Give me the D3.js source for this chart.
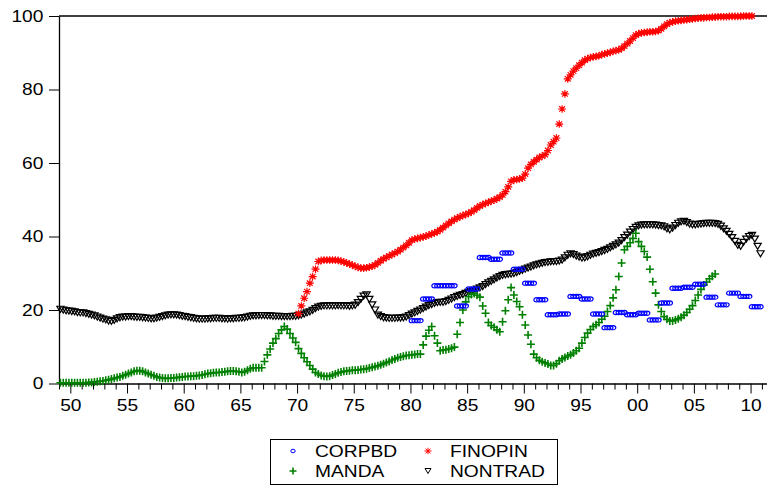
<!DOCTYPE html>
<html>
<head>
<meta charset="utf-8">
<script src="https://cdn.jsdelivr.net/npm/d3@7"></script>
<style>
body { margin: 0; background: #fff; }
svg text { font-family: "Liberation Sans", Arial, sans-serif; font-size: 16px; fill: #000; }
</style>
</head>
<body>
<svg id="chart" width="767" height="486"></svg>
<script>
// quarterly data, first value = Q1 of the start year
var corpbd_start = 1980;
var corpbd = [
  17.1,17.1,17.1,17.1, 23.0,23.0,23.0,23.0, 26.6,26.6,26.6,26.6, 26.6,26.6,26.6,26.6, 21.1,21.1,21.1,21.1,
  25.7,25.7,25.7,25.7, 34.3,34.3,34.3,34.3, 33.8,33.8,33.8,33.8, 35.5,35.5,35.5,35.5, 31.1,31.1,31.1,31.1,
  27.3,27.3,27.3,27.3, 22.8,22.8,22.8,22.8, 18.7,18.7,18.7,18.7, 18.9,18.9,18.9,18.9, 23.7,23.7,23.7,23.7,
  23.0,23.0,23.0,23.0, 18.9,18.9,18.9,18.9, 15.2,15.2,15.2,15.2, 19.3,19.3,19.3,19.3, 18.7,18.7,18.7,18.7,
  19.1,19.1,19.1,19.1, 17.3,17.3,17.3,17.3, 21.9,21.9,21.9,21.9, 25.9,25.9,25.9,25.9, 26.2,26.2,26.2,26.2,
  27.0,27.0,27.0,27.0, 23.5,23.5,23.5,23.5, 21.4,21.4,21.4,21.4, 24.6,24.6,24.6,24.6, 23.7,23.7,23.7,23.7,
  20.9,20.9,20.9,20.9
];

var finopin_start = 1970;
var finopin = [
  19.0,21.1,23.2,25.0, 27.3,29.1,31.1,33.2, 33.5,33.6,33.6,33.6, 33.6,33.6,33.5,33.3, 33.1,32.8,32.5,32.2,
  31.9,31.6,31.4,31.4, 31.5,31.7,31.9,32.3, 32.8,33.4,33.9,34.3, 34.7,35.1,35.5,35.9, 36.4,37.0,37.6,38.3,
  39.0,39.3,39.5,39.7, 39.9,40.1,40.4,40.7, 41.0,41.3,41.8,42.4, 43.0,43.6,44.1,44.6, 45.0,45.4,45.7,46.0,
  46.3,46.7,47.2,47.8, 48.3,48.7,49.0,49.3, 49.6,49.9,50.3,50.7, 51.3,52.2,53.5,55.0, 55.4,55.5,55.7,55.9,
  57.0,58.6,59.6,60.3, 60.9,61.5,61.9,62.3, 63.4,64.9,65.8,66.8, 70.6,74.7,78.8,82.9, 84.0,85.0,85.8,86.6,
  87.3,88.0,88.4,88.7, 88.9,89.0,89.2,89.5, 89.7,89.9,90.1,90.4, 90.6,90.8,91.2,91.8, 92.5,93.2,94.0,94.8,
  95.2,95.4,95.5,95.6, 95.7,95.7,95.8,96.0, 96.5,97.2,97.8,98.2, 98.4,98.6,98.7,98.8, 98.9,99.0,99.1,99.2,
  99.3,99.4,99.5,99.5, 99.6,99.6,99.7,99.7, 99.8,99.8,99.8,99.8, 99.9,99.9,99.9,99.9, 99.9,100.0,100.0,100.0,
  100.0
];

var manda_start = 1949;
var manda = [
  0.2,0.2,0.2,0.2, 0.2,0.2,0.2,0.2, 0.2,0.2,0.3,0.3, 0.4,0.5,0.6,0.7, 0.9,1.0,1.2,1.4,
  1.6,1.8,2.1,2.4, 2.7,3.0,3.3,3.5, 3.5,3.3,3.0,2.7, 2.4,2.1,1.8,1.6, 1.5,1.4,1.4,1.5,
  1.5,1.6,1.7,1.8, 1.9,1.9,2.0,2.0, 2.1,2.2,2.3,2.5, 2.7,2.8,2.9,3.0, 3.0,3.1,3.2,3.3,
  3.4,3.4,3.3,3.2, 3.0,3.2,3.6,4.0, 4.3,4.3,4.3,4.3, 6.0,7.8,9.4,11.0, 12.2,13.6,14.6,15.5,
  14.8,13.6,12.4,11.2, 9.5,8.2,7.0,5.9, 4.9,3.9,3.0,2.6, 2.2,2.0,1.9,2.0, 2.3,2.6,2.9,3.1,
  3.3,3.4,3.5,3.6, 3.6,3.7,3.8,3.9, 4.0,4.2,4.4,4.6, 4.8,5.1,5.4,5.7, 6.0,6.4,6.7,7.0,
  7.2,7.4,7.6,7.7, 7.8,7.9,8.0,8.0, 10.5,12.9,14.5,15.5, 13.0,11.0,8.9,9.1, 9.2,9.4,9.6,9.9,
  13.4,16.6,20.0,22.2, 23.6,24.2,24.5,24.0, 23.5,21.1,19.1,16.6, 15.8,15.3,14.6,14.1, 16.8,19.8,22.8,26.1,
  24.1,22.3,20.9,18.7, 15.9,13.2,10.7,8.0, 7.0,6.3,5.9,5.6, 5.3,4.9,4.9,5.4, 6.2,6.7,7.1,7.5,
  7.8,8.3,8.9,9.6, 11.0,12.5,13.7,14.7, 15.5,16.0,16.6,17.5, 18.3,19.6,21.2,23.3, 25.5,29.1,32.8,36.4,
  37.3,38.3,39.5,40.9, 38.6,37.3,35.9,34.4, 31.1,27.7,24.6,21.4, 19.6,18.2,17.5,17.0, 17.0,17.3,17.6,18.0,
  18.6,19.3,20.2,21.2, 22.6,24.1,25.6,26.8, 27.6,28.5,29.2,29.8
];

var nontrad_start = 1949;
var nontrad = [
  20.2,20.0,19.8,19.7, 19.6,19.5,19.3,19.2, 19.2,19.0,18.8,18.6, 18.4,18.1,17.8,17.5, 17.3,17.0,16.9,17.2,
  17.6,17.9,18.1,18.1, 18.2,18.2,18.1,18.0, 18.0,17.9,17.8,17.7, 17.6,17.6,17.8,18.0, 18.2,18.4,18.6,18.7,
  18.7,18.6,18.5,18.3, 18.2,18.0,17.9,17.7, 17.6,17.5,17.5,17.5, 17.6,17.6,17.7,17.7, 17.7,17.6,17.6,17.5,
  17.6,17.6,17.7,17.7, 17.8,17.9,18.1,18.3, 18.4,18.4,18.5,18.5, 18.5,18.4,18.4,18.3, 18.3,18.3,18.2,18.2,
  18.2,18.2,18.3,18.3, 18.4,18.6,18.9,19.2, 19.5,19.9,20.4,20.8, 21.0,21.1,21.1,21.1, 21.1,21.1,21.2,21.1,
  21.1,21.1,21.0,21.1, 21.3,22.0,22.9,23.8, 24.1,22.9,21.4,20.0, 18.6,18.2,17.9,17.8, 17.7,17.7,17.7,17.8,
  17.8,17.9,18.1,18.5, 18.9,19.2,19.6,20.0, 20.4,20.8,21.2,21.5, 21.8,22.0,22.1,22.1, 22.3,22.6,23.0,23.4,
  23.7,24.0,24.2,24.5, 24.8,25.0,25.3,25.7, 26.0,26.4,26.9,27.4, 27.8,28.2,28.7,29.1, 29.4,29.6,29.7,29.8,
  29.9,30.2,30.5,30.8, 31.1,31.4,31.7,32.0, 32.3,32.5,32.7,32.9, 33.0,33.1,33.2,33.2, 33.3,33.6,34.2,34.9,
  35.3,35.1,34.7,34.4, 34.1,34.2,34.5,34.9, 35.2,35.4,35.6,35.9, 36.2,36.5,36.9,37.3, 37.7,38.2,38.9,39.7,
  40.4,41.2,41.9,42.5, 42.9,43.1,43.2,43.2, 43.2,43.2,43.1,43.0, 42.9,42.6,42.1,41.8, 42.3,43.0,43.6,44.0,
  44.1,43.8,43.4,43.2, 43.2,43.3,43.4,43.5, 43.6,43.6,43.6,43.5, 43.3,42.8,42.1,41.4, 40.6,39.7,38.7,37.6,
  37.3,38.4,39.3,40.0, 40.3,39.3,37.3,35.3
];

var y_ticks = [0, 20, 40, 60, 80, 100];
var x_major = [1950, 1955, 1960, 1965, 1970, 1975, 1980, 1985, 1990, 1995, 2000, 2005, 2010];
var x_labels = ["50", "55", "60", "65", "70", "75", "80", "85", "90", "95", "00", "05", "10"];
var x_minor = d3.range(1949, 2012).filter(function(yr) { return x_major.indexOf(yr) < 0; });

var series = [
  { name: "NONTRAD", start: nontrad_start, values: nontrad, color: "#000000", sym: "triangle" },
  { name: "MANDA", start: manda_start, values: manda, color: "#008000", sym: "plus" },
  { name: "FINOPIN", start: finopin_start, values: finopin, color: "#ff0000", sym: "asterisk" },
  { name: "CORPBD", start: corpbd_start, values: corpbd, color: "#0000ff", sym: "circle" }
];
var legend_order = ["CORPBD", "FINOPIN", "MANDA", "NONTRAD"];

// big = plot marks, small = legend keys
var sym_path = {
  triangle: { big: "M-3.6,-3H3.6L0,3Z", small: "M-3,-2.5H3L0,2.5Z" },
  plus: { big: "M-4,0H4M0,-4V4", small: "M-3.5,0H3.5M0,-3.5V3.5" },
  asterisk: { big: "M-4,0H4M0,-3.8V3.8M-2.9,-2.7L2.9,2.7M-2.9,2.7L2.9,-2.7",
              small: "M-3.5,0H3.5M0,-3.2V3.2M-2.5,-2.3L2.5,2.3M-2.5,2.3L2.5,-2.3" }
};

var svg = d3.select("#chart");
var plot_l = 59, plot_t = 16, plot_b = 383.5, plot_r = 767;

var x = d3.scaleLinear().domain([1949, 2011.45]).range([plot_l, plot_r]);
var y = d3.scaleLinear().domain([0, 100]).range([plot_b, plot_t]);

// frame top line
svg.append("line")
  .attr("x1", plot_l).attr("x2", plot_r + 2)
  .attr("y1", plot_t).attr("y2", plot_t)
  .attr("stroke", "#404040").attr("stroke-width", 2);

var yAxis = svg.append("g")
  .attr("transform", "translate(" + plot_l + ",0)")
  .call(d3.axisLeft(y).tickValues(y_ticks).tickSize(10).tickPadding(3).tickSizeOuter(0));
yAxis.selectAll("text").attr("transform", "scale(1.2,1)").style("font-size", "16px");

var xMinor = svg.append("g")
  .attr("transform", "translate(0," + plot_b + ")")
  .call(d3.axisBottom(x).tickValues(x_minor).tickSize(6).tickFormat("").tickSizeOuter(0));
xMinor.select(".domain").remove();

var xAxis = svg.append("g")
  .attr("transform", "translate(0," + plot_b + ")")
  .call(d3.axisBottom(x).tickValues(x_major).tickSize(10).tickPadding(6).tickSizeOuter(0)
    .tickFormat(function(d, i) { return x_labels[i]; }));
xAxis.select(".domain").attr("d", "M" + plot_l + ",0.5H" + (plot_r + 2));
xAxis.selectAll("text").attr("transform", "scale(1.2,1)").style("font-size", "16px");
svg.selectAll(".domain").attr("stroke", "#000").attr("stroke-width", 1.3);

function drawSymbol(sel, s, size) {
  if (s.sym == "circle") {
    sel.append("ellipse")
      .attr("rx", size == "big" ? 2.7 : 2.2).attr("ry", size == "big" ? 2.1 : 1.8)
      .attr("fill", "none").attr("stroke", s.color).attr("stroke-width", size == "big" ? 1.2 : 1);
  } else {
    sel.append("path").attr("d", sym_path[s.sym][size])
      .attr("fill", "none").attr("stroke", s.color)
      .attr("stroke-width", s.sym == "plus" ? 1.6 : (size == "big" ? 1.2 : 1));
  }
}

series.forEach(function(s) {
  var pts = s.values.map(function(v, i) { return { t: s.start + (i + 0.5) / 4, v: v }; });
  var g = svg.append("g").attr("class", "series");
  g.selectAll("g").data(pts).enter().append("g")
    .attr("transform", function(d) { return "translate(" + x(d.t) + "," + y(d.v) + ")"; })
    .each(function() { drawSymbol(d3.select(this), s, "big"); });
});

// legend
var leg = svg.append("g");
leg.append("rect").attr("x", 270.5).attr("y", 439.5).attr("width", 287).attr("height", 45)
  .attr("fill", "#fff").attr("stroke", "#000").attr("stroke-width", 1);
legend_order.forEach(function(name, i) {
  var s = series.filter(function(d) { return d.name == name; })[0];
  var col = i % 2, row = Math.floor(i / 2);
  var sx = 293 + col * 135, cy = 451 + row * 20;
  var g = leg.append("g").attr("transform", "translate(" + sx + "," + cy + ")");
  drawSymbol(g, s, "small");
  leg.append("text")
    .attr("transform", "translate(" + (sx + 22) + "," + (cy + 6) + ") scale(1.2,1)")
    .text(name);
});
</script>
</body>
</html>
